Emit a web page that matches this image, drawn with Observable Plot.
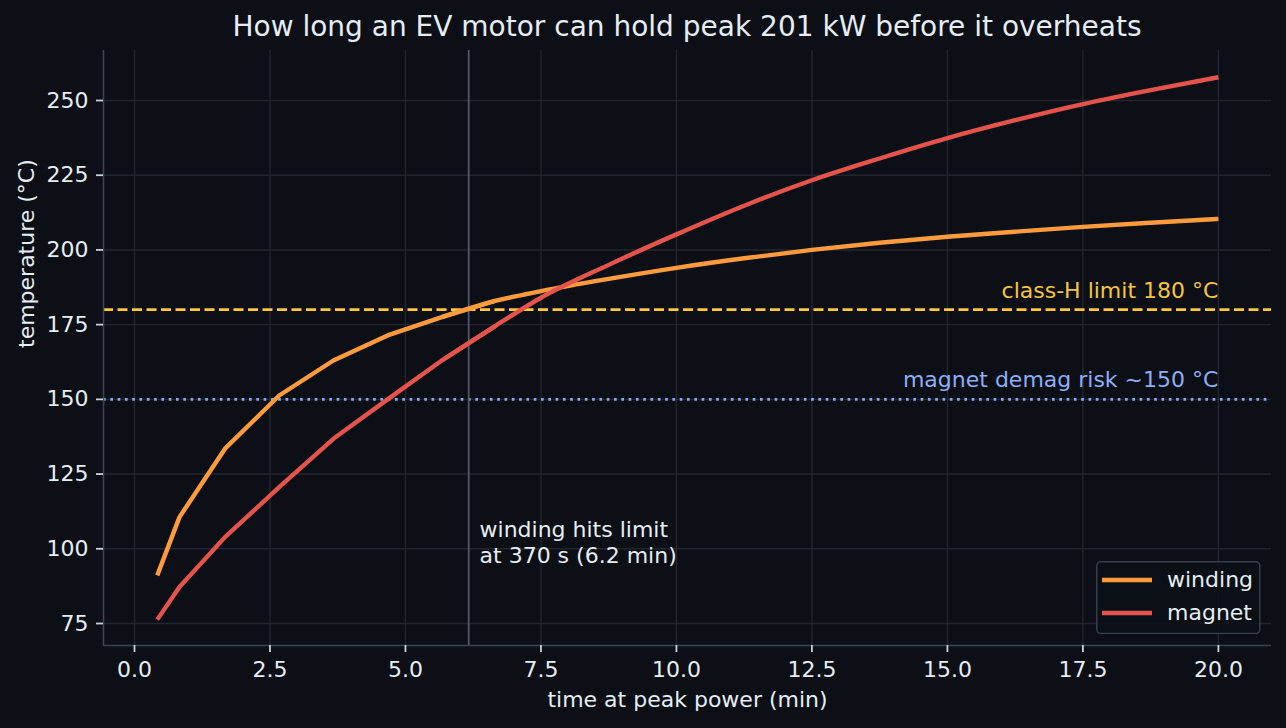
<!DOCTYPE html>
<html>
<head>
<meta charset="utf-8">
<script src="https://cdn.jsdelivr.net/npm/d3@7"></script>
<script src="https://cdn.jsdelivr.net/npm/@observablehq/plot@0.6"></script>
<style>
  html, body { margin: 0; padding: 0; background: #0c0f16; }
  body { width: 1286px; height: 728px; position: relative; overflow: hidden; font-family: "DejaVu Sans", sans-serif; }
  #title { height: 50px; box-sizing: border-box; padding: 13px 15px 0 103px; text-align: center; color: #e6edf3; font-size: 28px; line-height: 28px; white-space: nowrap; }
  #legend { position: absolute; left: 1096px; top: 561px; }
</style>
</head>
<body>
<div id="title">How long an EV motor can hold peak 201 kW before it overheats</div>
<div id="chart"></div>
<svg id="legend" width="165" height="74" xmlns="http://www.w3.org/2000/svg"></svg>
<script>
const timeMin = [0.42, 0.83, 1.67, 2.67, 3.67, 4.67, 5.67, 6.67, 7.5, 8.75, 10, 11.25, 12.5, 13.75, 15, 16.25, 17.5, 18.75, 20];
const winding = [91.1, 110.6, 133.5, 151.3, 163.0, 171.4, 177.5, 183.0, 186.2, 190.3, 194.0, 197.2, 200.0, 202.4, 204.4, 206.1, 207.7, 209.1, 210.4];
const magnet  = [76.3, 87.2, 103.9, 120.6, 136.8, 150.0, 163.0, 174.7, 184.0, 195.0, 205.2, 214.8, 223.3, 230.6, 237.4, 243.4, 248.8, 253.5, 257.8];
const xTicks = [0, 2.5, 5, 7.5, 10, 12.5, 15, 17.5, 20];
const yTicks = [75, 100, 125, 150, 175, 200, 225, 250];
const seriesNames = ["winding", "magnet"];
const limitH = 180, demag = 150, hitMin = 370 / 60;
const limitLabel = "class-H limit 180 °C";
const demagLabel = "magnet demag risk ~150 °C";
const annot = "winding hits limit\nat 370 s (6.2 min)";
const xLabel = "time at peak power (min)";
const yLabel = "temperature (°C)";

const wData = timeMin.map((t, i) => ({t, v: winding[i]}));
const mData = timeMin.map((t, i) => ({t, v: magnet[i]}));
// coarse early samples are drawn as straight segments, the dense tail smoothly
const split = 7;
const early = d => d.filter((p, i) => i <= split);
const late = d => d.filter((p, i) => i >= split - 1);
const xDom = [-0.572, 20.98], yDom = [67.64, 266.73];

const bg = "#0c0f16", grid = "#22272e", spine = "#3d444d", txt = "#e6edf3", tick = "#c9d1d9";
const cW = "#ff9b3d", cM = "#e5534b", cGold = "#ffc93c", cBlue = "#86a6f5";
const FS = 22, LW = 4.4;

const chart = Plot.plot({
  width: 1286, height: 678,
  marginLeft: 103, marginRight: 15, marginTop: 0, marginBottom: 83,
  style: {background: bg, color: txt, fontFamily: "DejaVu Sans, sans-serif", fontSize: FS + "px"},
  x: {domain: xDom},
  y: {domain: yDom},
  marks: [
    Plot.gridX(xTicks, {stroke: grid, strokeOpacity: 1, strokeWidth: 1.4}),
    Plot.gridY(yTicks, {stroke: grid, strokeOpacity: 1, strokeWidth: 1.4}),
    Plot.ruleY([limitH], {stroke: cGold, strokeWidth: 2.7, strokeDasharray: "10,4.5"}),
    Plot.ruleY([demag], {stroke: cBlue, strokeWidth: 2.7, strokeDasharray: "2.7,4.6"}),
    Plot.ruleX([hitMin], {stroke: "#555d67", strokeWidth: 1.7}),
    Plot.line(late(wData), {x: "t", y: "v", stroke: cW, strokeWidth: LW, curve: "monotone-x", strokeLinecap: "butt"}),
    Plot.line(early(wData), {x: "t", y: "v", stroke: cW, strokeWidth: LW, strokeLinecap: "butt"}),
    Plot.line(late(mData), {x: "t", y: "v", stroke: cM, strokeWidth: LW, curve: "monotone-x", strokeLinecap: "butt"}),
    Plot.line(early(mData), {x: "t", y: "v", stroke: cM, strokeWidth: LW, strokeLinecap: "butt"}),
    Plot.text([limitLabel], {x: 20, y: limitH, text: d => d, textAnchor: "end", lineAnchor: "bottom", dy: -12, fill: "#f5c542", fontSize: FS}),
    Plot.text([demagLabel], {x: 20, y: demag, text: d => d, textAnchor: "end", lineAnchor: "bottom", dy: -12, fill: "#8eaef7", fontSize: FS}),
    Plot.text([annot], {x: hitMin + 0.2, y: 95.08, text: d => d, textAnchor: "start", lineAnchor: "bottom", lineHeight: 1.21, fill: txt, fontSize: FS}),
    Plot.ruleX([xDom[0]], {stroke: spine, strokeWidth: 1.6}),
    Plot.ruleY([yDom[0]], {stroke: spine, strokeWidth: 1.6}),
    Plot.axisX({ticks: xTicks, tickFormat: d => d.toFixed(1), tickSize: 7, tickPadding: 8.4, stroke: tick, strokeWidth: 1.8, fill: txt, fontSize: FS, label: null}),
    Plot.axisY({ticks: yTicks, tickFormat: d => String(d), tickSize: 7, tickPadding: 8, stroke: tick, strokeWidth: 1.8, fill: txt, fontSize: FS, label: null}),
    Plot.text([xLabel], {frameAnchor: "bottom", dy: 61, text: d => d, fill: txt, fontSize: FS, lineAnchor: "bottom"}),
    Plot.text([yLabel], {frameAnchor: "left", dx: -69.7, rotate: -90, text: d => d, fill: txt, fontSize: FS, lineAnchor: "bottom"})
  ]
});
document.getElementById("chart").appendChild(chart);

// legend (outside the plot svg, overlaid bottom-right)
const lg = d3.select("#legend");
lg.append("rect").attr("x", 0.8).attr("y", 0.8).attr("width", 163).attr("height", 71.6).attr("rx", 4)
  .attr("fill", bg).attr("fill-opacity", 0.85).attr("stroke", "#3b414a").attr("stroke-width", 1.4);
[cW, cM].forEach((c, i) => {
  const cy = 19 + i * 33;
  lg.append("line").attr("x1", 6).attr("x2", 56).attr("y1", cy).attr("y2", cy).attr("stroke", c).attr("stroke-width", LW);
  lg.append("text").attr("x", 71).attr("y", cy + 7).attr("fill", txt)
    .style("font", FS + "px 'DejaVu Sans', sans-serif").text(seriesNames[i]);
});
</script>
</body>
</html>
